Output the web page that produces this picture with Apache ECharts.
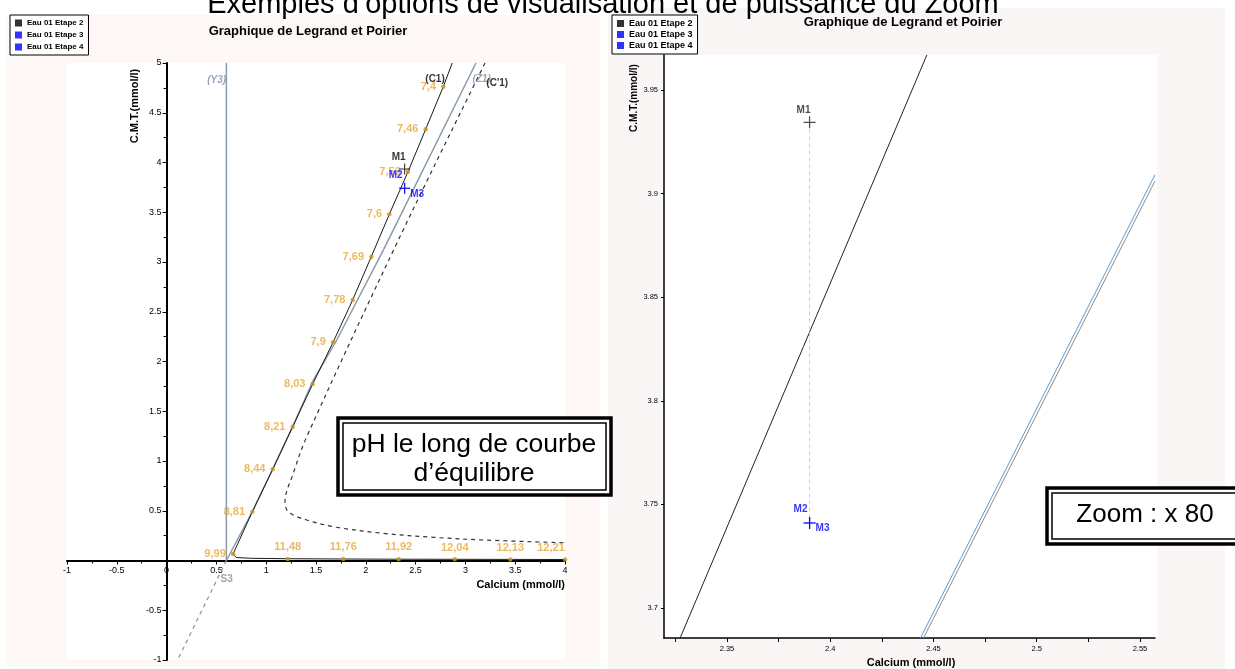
<!DOCTYPE html>
<html><head><meta charset="utf-8">
<script src="https://cdn.jsdelivr.net/npm/echarts@6/dist/echarts.min.js"></script>
<style>html,body{margin:0;padding:0;background:#fff}#c{width:1235px;height:669px}</style>
</head><body><div id="c"></div>
<script>
// ---------- DATA ----------
const legendNames = ['Eau 01 Etape 2', 'Eau 01 Etape 3', 'Eau 01 Etape 4'];

// Left chart: Legrand & Poirier diagram (Calcium mmol/l vs C.M.T. mmol/l)
const y3Line = [[0.6, 0], [0.6, 5]];
const s3Dashed = [[0.6, 0], [0.11, -1]];
const c1Curve = [[2.868, 5.0], [2.778, 4.762], [2.601, 4.334], [2.424, 3.908], [2.236, 3.479], [2.055, 3.053],
  [1.868, 2.618], [1.671, 2.193], [1.467, 1.774], [1.266, 1.345], [1.065, 0.917], [0.861, 0.491],
  [0.667, 0.065], [0.655, 0.045], [0.7, 0.03], [0.85, 0.022], [1.216, 0.018], [1.774, 0.015],
  [2.33, 0.013], [2.893, 0.012], [3.451, 0.011], [4.0, 0.01]];
const z1Curve = [[3.106, 5.0], [2.176, 3.12], [1.708, 2.216], [1.473, 1.814], [1.266, 1.345],
  [1.065, 0.917], [0.861, 0.491], [0.6, 0.0]];
const c1PrimeCurve = [[3.197, 5.0], [2.327, 3.221], [1.407, 1.244], [1.272, 0.876], [1.189, 0.591],
  [1.222, 0.49], [1.407, 0.407], [1.708, 0.334], [2.176, 0.273], [2.678, 0.233], [3.18, 0.206], [4.0, 0.178]];

const phDiagLabels = ['7,4', '7,46', '7,53', '7,6', '7,69', '7,78', '7,9', '8,03', '8,21', '8,44', '8,81', '9,99'];
const phDiagCa = [2.778, 2.601, 2.424, 2.236, 2.055, 1.868, 1.671, 1.467, 1.266, 1.065, 0.861, 0.667];
const phDiagCmt = [4.762, 4.334, 3.908, 3.479, 3.053, 2.618, 2.193, 1.774, 1.345, 0.917, 0.491, 0.065];
const phAxisLabels = ['11,48', '11,76', '11,92', '12,04', '12,13', '12,21'];
const phAxisCa = [1.216, 1.774, 2.33, 2.893, 3.451, 4.0];
const phAxisCmt = [0.015, 0.015, 0.013, 0.012, 0.011, 0.01];

const grayCurveNames = ['(Y3)', '(Z1)'];
const grayCurveCa = [0.503, 3.164];
const grayCurveCmt = [4.83, 4.836];
const blackCurveNames = ['(C1)', "(C'1)"];
const blackCurveCa = [2.695, 3.32];
const blackCurveCmt = [4.836, 4.796];
const s3Name = ['S3'];
const s3Ca = [0.603];
const s3Cmt = [-0.19];

const m1Point = [2.39, 3.935];
const m2Point = [2.39, 3.741];
const m3Point = [2.39, 3.741];

// Right chart: zoom x80
const zoomXLabels = [2.35, 2.4, 2.45, 2.5, 2.55];
const zoomXTicks = [2.325, 2.35, 2.375, 2.4, 2.425, 2.45, 2.475, 2.5, 2.525, 2.55];
const zoomYLabels = [3.7, 3.75, 3.8, 3.85, 3.9, 3.95];
const zoomC1 = [[2.3273, 3.6855], [2.4468, 3.9669]];
const zoomZ1 = [[2.4437, 3.6855], [2.5573, 3.9091]];
const zoomZ1b = [[2.4452, 3.6855], [2.5573, 3.9061]];
const zoomM1M2 = [[2.39, 3.9344], [2.39, 3.741]];
const zoomM1 = [2.39, 3.9344];
const zoomM2 = [2.39, 3.741];
const zoomM3 = [2.39, 3.741];

// ---------- CHART ----------
const FONT = '"Liberation Sans", Arial, sans-serif';
const PLUS = 'path://M4.5,0h1v4.5h4.5v1h-4.5v4.5h-1v-4.5h-4.5v-1h4.5z';
const ORANGE = '#e8a838', DOT = '#c8961c', GRAYBLUE = '#8a9bb0', BLUE = '#0000ff';

const chart = echarts.init(document.getElementById('c'), null, {renderer: 'canvas'});

function pts(xs, ys, names) { return xs.map((x, i) => ({name: names[i], value: [x, ys[i]]})); }

function lineS(data, color, width, type, xi, extra) {
  return Object.assign({type: 'line', xAxisIndex: xi, yAxisIndex: xi, data: data, symbol: 'none', silent: true,
    clip: true, lineStyle: {color: color, width: width, type: type}, z: 3}, extra || {});
}
function labelS(data, style, xi) {
  return {type: 'scatter', xAxisIndex: xi, yAxisIndex: xi, data: data, symbolSize: 0, silent: true, z: 6,
    label: Object.assign({show: true, formatter: '{b}', position: [0, 0], align: 'center', verticalAlign: 'middle',
      fontFamily: FONT, fontSize: 10, fontWeight: 'bold'}, style)};
}
function crossS(name, pt, color, size, lab, xi) {
  return {type: 'scatter', name: name, xAxisIndex: xi, yAxisIndex: xi, data: [pt], symbol: PLUS, symbolSize: size,
    itemStyle: {color: color}, z: 8,
    label: Object.assign({show: true, fontFamily: FONT, fontSize: 10, fontWeight: 'bold', color: color}, lab)};
}

function doubleBox(x, y, w, h) {
  return [
    {type: 'rect', shape: {x: x, y: y, width: w, height: h}, style: {fill: '#fff', stroke: '#000', lineWidth: 3.5}, z: 100},
    {type: 'rect', shape: {x: x + 5, y: y + 5, width: w - 10, height: h - 10}, style: {fill: 'none', stroke: '#000', lineWidth: 1.5}, z: 101}
  ];
}

const graphic = [
  {type: 'rect', shape: {x: 7, y: 15, width: 593, height: 651}, style: {fill: '#fdf7f5'}, z: -10},
  {type: 'rect', shape: {x: 608, y: 8, width: 617, height: 661}, style: {fill: '#faf6f6'}, z: -10},
  {type: 'rect', shape: {x: 67, y: 63, width: 498, height: 597}, style: {fill: '#ffffff'}, z: -9},
  {type: 'rect', shape: {x: 664, y: 55, width: 493, height: 583}, style: {fill: '#ffffff'}, z: -9},
  {type: 'text', style: {text: 'Exemples d’options de visualisation et de puissance du Zoom', x: 603, y: 5,
    align: 'center', verticalAlign: 'middle', font: '29px ' + FONT, fill: '#000'}, z: 50},
  {type: 'text', style: {text: 'Graphique de Legrand et Poirier', x: 308, y: 31, align: 'center', verticalAlign: 'middle',
    font: 'bold 13px ' + FONT, fill: '#000'}, z: 50},
  {type: 'text', style: {text: 'Graphique de Legrand et Poirier', x: 903, y: 22, align: 'center', verticalAlign: 'middle',
    font: 'bold 13px ' + FONT, fill: '#000'}, z: 50},
  {type: 'text', x: 135, y: 106, rotation: Math.PI / 2, style: {text: 'C.M.T.(mmol/l)', x: 0, y: 0, align: 'center',
    verticalAlign: 'middle', font: 'bold 11px ' + FONT, fill: '#000'}, z: 50},
  {type: 'text', x: 634, y: 98, rotation: Math.PI / 2, style: {text: 'C.M.T.(mmol/l)', x: 0, y: 0, align: 'center',
    verticalAlign: 'middle', font: 'bold 10px ' + FONT, fill: '#000'}, z: 50},
  {type: 'text', style: {text: 'Calcium (mmol/l)', x: 565, y: 585, align: 'right', verticalAlign: 'middle',
    font: 'bold 11px ' + FONT, fill: '#000'}, z: 50},
  {type: 'text', style: {text: 'Calcium (mmol/l)', x: 911, y: 663, align: 'center', verticalAlign: 'middle',
    font: 'bold 11px ' + FONT, fill: '#000'}, z: 50},
  ...doubleBox(338, 418, 273, 77),
  {type: 'text', style: {text: 'pH le long de courbe\nd’équilibre', x: 474, y: 459, align: 'center', verticalAlign: 'middle',
    font: '26.5px ' + FONT, fill: '#000', lineHeight: 29}, z: 102},
  ...doubleBox(1047, 488, 200, 56),
  {type: 'text', style: {text: 'Zoom : x 80', x: 1145, y: 515, align: 'center', verticalAlign: 'middle',
    font: '26px ' + FONT, fill: '#000'}, z: 102}
];

function legendCfg(left, top, fs, gap) {
  return {data: legendNames.map(n => ({name: n, icon: 'rect'})), orient: 'vertical', left: left, top: top,
    selectedMode: false, backgroundColor: '#fff', borderColor: '#000', borderWidth: 1, padding: [4, 5, 4, 5],
    itemWidth: 7, itemHeight: 7, itemGap: gap, itemTextGap: 4,
    textStyle: {fontFamily: FONT, fontSize: fs, fontWeight: 'bold', color: '#000'}, z: 60};
}

const option = {
  backgroundColor: '#fff',
  animation: false,
  textStyle: {fontFamily: FONT},
  graphic: graphic,
  legend: [legendCfg(10, 15, 8, 4), legendCfg(612, 15, 9, 2)],
  grid: [
    {left: 67, top: 63, width: 498, height: 597},
    {left: 664, top: 55, width: 491, height: 583}
  ],
  xAxis: [
    {type: 'value', gridIndex: 0, min: -1, max: 4, interval: 0.5, position: 'bottom', offset: -99.5,
      axisLine: {onZero: false, lineStyle: {color: '#000', width: 2}},
      axisTick: {show: true, length: 4, lineStyle: {color: '#000'}},
      minorTick: {show: true, splitNumber: 2, length: 3, lineStyle: {color: '#000'}},
      splitLine: {show: false}, minorSplitLine: {show: false},
      axisLabel: {fontSize: 9, color: '#000', margin: 6, fontFamily: FONT}},
    {type: 'value', gridIndex: 1, min: 2.3195, max: 2.5573,
      axisLine: {onZero: false, lineStyle: {color: '#000', width: 1.5}},
      axisTick: {show: true, customValues: zoomXTicks, length: 4, lineStyle: {color: '#000'}},
      splitLine: {show: false},
      axisLabel: {customValues: zoomXLabels, fontSize: 7.5, color: '#000', margin: 7, fontFamily: FONT,
        formatter: v => String(+(+v).toFixed(3))}}
  ],
  yAxis: [
    {type: 'value', gridIndex: 0, min: -1, max: 5, interval: 0.5, position: 'left', offset: -99.6,
      axisLine: {onZero: false, lineStyle: {color: '#000', width: 2}},
      axisTick: {show: true, length: 4, lineStyle: {color: '#000'}},
      minorTick: {show: true, splitNumber: 2, length: 3, lineStyle: {color: '#000'}},
      splitLine: {show: false}, minorSplitLine: {show: false},
      axisLabel: {fontSize: 9, color: '#000', margin: 5, fontFamily: FONT, formatter: v => (v === 0 ? '' : String(v))}},
    {type: 'value', gridIndex: 1, min: 3.6855, max: 3.9669,
      axisLine: {onZero: false, lineStyle: {color: '#000', width: 1.5}},
      axisTick: {show: true, customValues: zoomYLabels, length: 3, lineStyle: {color: '#000'}},
      splitLine: {show: false},
      axisLabel: {customValues: zoomYLabels, fontSize: 7.5, color: '#000', margin: 6, fontFamily: FONT,
        formatter: v => String(+(+v).toFixed(3))}}
  ],
  series: [
    // left chart
    lineS(y3Line, GRAYBLUE, 1.5, 'solid', 0),
    lineS(s3Dashed, GRAYBLUE, 1.3, [4, 4], 0),
    lineS(z1Curve, GRAYBLUE, 1.5, 'solid', 0),
    lineS(c1Curve, '#1a1a1a', 1, 'solid', 0),
    lineS(c1PrimeCurve, '#333', 1.2, [4, 4], 0, {smooth: 0.35}),
    {type: 'scatter', xAxisIndex: 0, yAxisIndex: 0, data: pts(phDiagCa, phDiagCmt, phDiagLabels), symbolSize: 4.5,
      itemStyle: {color: DOT}, silent: true, z: 5,
      label: {show: true, formatter: '{b}', position: 'left', distance: 5, color: ORANGE, fontSize: 11,
        fontWeight: 'bold', fontFamily: FONT}},
    {type: 'scatter', xAxisIndex: 0, yAxisIndex: 0,
      data: pts(phAxisCa, phAxisCmt, phAxisLabels).map((d, i, a) => i === a.length - 1 ? Object.assign(d, {label: {offset: [-14, 0]}}) : d),
      symbolSize: 4.5, itemStyle: {color: DOT}, silent: true, z: 5,
      label: {show: true, formatter: '{b}', position: 'top', distance: 4, color: ORANGE, fontSize: 11,
        fontWeight: 'bold', fontFamily: FONT}},
    labelS(pts(grayCurveCa, grayCurveCmt, grayCurveNames), {color: '#7d8ea5', fontStyle: 'italic'}, 0),
    labelS(pts(blackCurveCa, blackCurveCmt, blackCurveNames), {color: '#000'}, 0),
    labelS(pts(s3Ca, s3Cmt, s3Name), {color: '#7d8ea5'}, 0),
    crossS(legendNames[0], m1Point, '#000', 11, {formatter: 'M1', position: 'top', distance: 1, offset: [-6, 0]}, 0),
    crossS(legendNames[1], m2Point, BLUE, 11, {formatter: 'M2', position: 'top', distance: 3, offset: [-9, 0]}, 0),
    crossS(legendNames[2], m3Point, BLUE, 11, {formatter: 'M3', position: 'right', distance: 0, offset: [0, 6]}, 0),
    // right chart
    lineS(zoomC1, '#222', 1, 'solid', 1),
    lineS(zoomZ1, '#5b9bd5', 1, 'solid', 1),
    lineS(zoomZ1b, '#8c8c8c', 1, 'solid', 1),
    lineS(zoomM1M2, '#c9c9f2', 1, [4, 3], 1),
    crossS(legendNames[0], zoomM1, '#222', 12, {formatter: 'M1', position: 'top', distance: 1, offset: [-6, 0]}, 1),
    crossS(legendNames[1], zoomM2, BLUE, 12, {formatter: 'M2', position: 'top', distance: 3, offset: [-9, 0]}, 1),
    crossS(legendNames[2], zoomM3, BLUE, 12, {formatter: 'M3', position: 'right', distance: 0, offset: [0, 5]}, 1)
  ]
};
chart.setOption(option);
</script>
</body></html>
